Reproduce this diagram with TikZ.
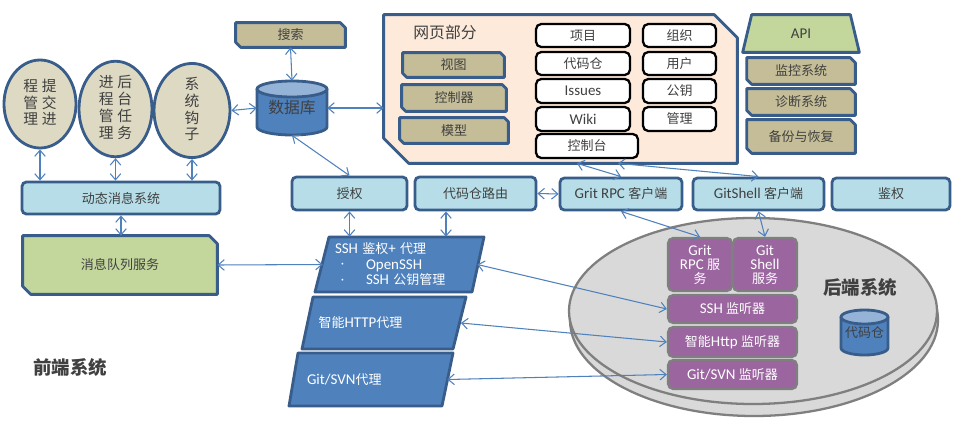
\documentclass[tikz,border=0pt]{standalone}
\usepackage{fontspec}
\setmainfont{Carlito}
\newfontfamily\cjk{Noto Sans CJK SC}
\newfontfamily\lat[Scale=1.15]{Carlito}
\usetikzlibrary{arrows.meta,backgrounds,shapes.geometric,calc}
\definecolor{bord}{HTML}{385D8A}
\definecolor{arrc}{HTML}{4F81BD}
\definecolor{beige}{HTML}{DDD9C3}
\definecolor{khaki}{HTML}{C4BD97}
\definecolor{lblue}{HTML}{B7DEE8}
\definecolor{lgreen}{HTML}{C3D69B}
\definecolor{peach}{HTML}{FDEADA}
\definecolor{mblue}{HTML}{4F81BD}
\definecolor{topblue}{HTML}{95B3D7}
\definecolor{disk}{HTML}{D9D9D9}
\definecolor{diskb}{HTML}{7F7F7F}
\definecolor{purp}{HTML}{9B65A0}
\definecolor{txtc}{HTML}{404040}
\newcommand\La[1]{{\lat #1}}
\newcommand\smbul{\raisebox{1pt}{\fontsize{5}{5}\selectfont\textbullet}}
\newcommand\snipdraw[4]{%
  \begin{pgfonlayer}{background}
  \draw[#4] (#1.north west) -- ([xshift=-#2*0.02cm]#1.north east) -- ([yshift=-#2*0.02cm]#1.north east) -- (#1.south east) -- ([xshift=#3*0.02cm]#1.south west) -- ([yshift=#3*0.02cm]#1.south west) -- cycle;
  \end{pgfonlayer}}
\tikzset{
  sz/.style 2 args={minimum width=#1*0.02cm, minimum height=#2*0.02cm},
  base/.style={inner sep=0pt, text=txtc, align=center, font=\cjk\fontsize{7.4}{9}\selectfont},
  ell/.style={base, ellipse, draw=bord, line width=1.6pt, fill=beige, font=\cjk\fontsize{8.4}{8.5}\selectfont},
  lbbox/.style={base, rectangle, rounded corners=2.5pt, draw=bord, line width=1.6pt, fill=lblue},
  wbox/.style={base, rectangle, rounded corners=3pt, draw=black, line width=1.3pt, fill=white},
  pbox/.style={base, rectangle, rounded corners=3pt, draw=diskb, line width=1.3pt, fill=purp, text=white, font=\cjk\fontsize{7.4}{7.9}\selectfont},
  snipk/.style={draw=bord, line width=1.6pt, fill=khaki, line join=round},
  snipg/.style={draw=bord, line width=1.6pt, fill=lgreen, line join=round},
  shp/.style={draw=bord, line width=1.6pt, line join=round},
  par/.style={base, text=white, align=left, inner xsep=12*0.02cm, font=\cjk\fontsize{7.4}{8.8}\selectfont},
  big/.style={base, font=\cjk\bfseries\fontsize{10.5}{12}\selectfont},
  conn/.style={draw=arrc, line width=0.6pt, {Straight Barb[length=3.5pt,width=6pt]}-{Straight Barb[length=3.5pt,width=6pt]}},
}
\begin{document}
\begin{tikzpicture}[x=0.02cm, y=-0.02cm]
\useasboundingbox (0,0) rectangle (960,423);
\begin{pgfonlayer}{background}
\fill[white] (0,0) rectangle (960,423);
\end{pgfonlayer}

% ---- left ellipses
\node[ell, sz={72}{88}] (e1) at (40,104) {\begin{tabular}{@{}c@{\hspace{2pt}}c@{}}程&提\\管&交\\理&进\end{tabular}};
\node[ell, sz={73}{88}] (e2) at (115.5,109) {\begin{tabular}{@{}c@{\hspace{2pt}}c@{}}进&后\\程&台\\管&任\\理&务\end{tabular}};
\node[ell, sz={76}{89}] (e3) at (192,110.5) {\begin{tabular}{@{}c@{}}系\\统\\钩\\子\end{tabular}};

\node[lbbox, sz={198}{32}] (dyn) at (121,198) {动态消息系统};
\node[base, sz={194}{58}] (mq) at (120,265) {消息队列服务};
\snipdraw{mq}{8}{8}{snipg}

\node[big] (front) at (70,367) {前端系统};

% ---- search and database
\node[base, sz={109}{24}] (search) at (290.5,35) {搜索};
\snipdraw{search}{5}{5}{snipk}

\draw[shp, fill=mblue] (257,89) -- (257,127) arc[start angle=180, end angle=360, x radius=0.7cm, y radius=0.16cm] -- (327,89) -- cycle;
\draw[shp, fill=topblue] (292,89) ellipse [x radius=0.7cm, y radius=0.16cm];
\node[base, sz={70}{54}, font=\cjk\fontsize{9}{10}\selectfont, text=black!75] (db) at (292,108) {\raisebox{-3pt}{数据库}};

% ---- web part
\node[base, sz={353}{148}] (web) at (560.5,89) {};
\snipdraw{web}{23}{25}{shp, fill=peach}
\node[base, font=\cjk\fontsize{9}{10}\selectfont] (webt) at (445,32) {网页部分};

\node[base, sz={101}{24}] (view) at (453.5,65) {视图};
\snipdraw{view}{4}{4}{snipk}
\node[base, sz={104}{26}] (ctrl) at (454,98) {控制器};
\snipdraw{ctrl}{4}{4}{snipk}
\node[base, sz={108}{25}] (model) at (454,130.5) {模型};
\snipdraw{model}{4}{4}{snipk}

\node[wbox, sz={94}{23}] (proj) at (583,35.5) {项目};
\node[wbox, sz={94}{23}] (repo) at (583,63.5) {代码仓};
\node[wbox, sz={94}{24}] (issues) at (583,91) {\La{Issues}};
\node[wbox, sz={94}{24}] (wiki) at (583,119) {\La{Wiki}};
\node[wbox, sz={102}{24}] (console) at (587,146) {控制台};
\node[wbox, sz={73}{23}] (org) at (679.5,35.5) {组织};
\node[wbox, sz={73}{23}] (user) at (679.5,63.5) {用户};
\node[wbox, sz={73}{24}] (key) at (679.5,91) {公钥};
\node[wbox, sz={73}{24}] (admin) at (679.5,119) {管理};

% ---- API column
\node[base, sz={116}{37}] (api) at (801,33.5) {\La{API}};
\begin{pgfonlayer}{background}
\draw[shp, fill=lgreen] ([xshift=0.18cm]api.north west) -- ([xshift=-0.18cm]api.north east) -- (api.south east) -- (api.south west) -- cycle;
\end{pgfonlayer}
\node[base, sz={108}{26}] (mon) at (801,71) {监控系统};
\snipdraw{mon}{5}{5}{snipk}
\node[base, sz={108}{26}] (diag) at (801,102) {诊断系统};
\snipdraw{diag}{5}{5}{snipk}
\node[base, sz={108}{33}] (backup) at (801,136.5) {备份与恢复};
\snipdraw{backup}{5}{5}{snipk}

% ---- middle row
\node[lbbox, sz={115}{33}] (auth) at (349.5,193.5) {授权};
\node[lbbox, sz={121}{33}] (route) at (475.5,193.5) {代码仓路由};
\node[lbbox, sz={122}{32}] (gritc) at (621,194) {\La{Grit RPC }客户端};
\node[lbbox, sz={131}{32}] (gitshc) at (758.5,194) {\La{GitShell }客户端};
\node[lbbox, sz={118}{32}] (jq) at (891,194) {鉴权};

% ---- proxies
\node[par, sz={154}{55}, text width=2.6cm] (ssh) at (400,264.5) {\La{SSH }鉴权\La{+ }代理\\\hspace*{0.06cm}\makebox[0.56cm][l]{\smbul}\La{OpenSSH}\\\hspace*{0.06cm}\makebox[0.56cm][l]{\smbul}\La{SSH }公钥管理};
\begin{pgfonlayer}{background}
\draw[shp, fill=mblue] (329,237) -- (484,237) -- (472,292) -- (315,292) -- cycle;
\end{pgfonlayer}
\node[par, sz={154}{52}, text width=2.6cm] (http) at (383.5,323) {智能\La{HTTP}代理};
\begin{pgfonlayer}{background}
\draw[shp, fill=mblue] (313,297) -- (466,297) -- (453,349) -- (302,349) -- cycle;
\end{pgfonlayer}
\node[par, sz={152}{53}, text width=2.56cm] (gitsvn) at (371,379.5) {\La{Git/SVN}代理};
\begin{pgfonlayer}{background}
\draw[shp, fill=mblue] (298,353) -- (453,353) -- (442,406) -- (289,406) -- cycle;
\end{pgfonlayer}

% ---- backend
\node[ellipse, inner sep=0pt, draw=diskb, line width=1.3pt, fill=disk, sz={368}{192}] (disk2) at (754,320) {};
\node[ellipse, inner sep=0pt, draw=diskb, line width=1.3pt, fill=disk, sz={368}{186}] (disk) at (753,311) {};
\node[big] (back) at (860,287) {后端系统};

\node[pbox, sz={64}{53}] (gritsvc) at (700,264.5) {\La{Grit}\\\La{RPC }服\\务};
\node[pbox, sz={64}{53}] (gitshsvc) at (765,264.5) {\La{Git}\\\La{Shell}\\服务};
\node[pbox, sz={129}{28}] (sshl) at (732.5,309) {\La{SSH }监听器};
\node[pbox, sz={129}{30}] (httpl) at (732.5,342) {智能\La{Http }监听器};
\node[pbox, sz={129}{29}] (gitsvnl) at (732.5,374.5) {\La{Git/SVN }监听器};

\draw[shp, fill=mblue] (841,317) -- (841,348) arc[start angle=180, end angle=360, x radius=0.47cm, y radius=0.14cm] -- (888,317) -- cycle;
\draw[shp, fill=topblue] (864.5,317) ellipse [x radius=0.47cm, y radius=0.14cm];
\node[base, sz={47}{45}, text=black!75] (store) at (864.5,332.5) {\raisebox{-2pt}{代码仓}};

% ---- connectors
\draw[conn] (e1.south) -- (e1.south |- dyn.north);
\draw[conn] (e2.south) -- (e2.south |- dyn.north);
\draw[conn] (e3.south) -- (e3.south |- dyn.north);
\draw[conn] (dyn.south) -- (dyn.south |- mq.north);
\draw[conn] (mq.east) -- (ssh.west);
\draw[conn] (search.south) -- (db.north);
\draw[conn] (e3.east) -- (db.west);
\draw[conn] (db.east) -- (db.east -| web.west);
\draw[conn] (db.south) -- (auth.north);
\draw[conn] (auth.south) -- (auth.south |- ssh.north);
\draw[conn] ([xshift=-0.59cm]route.south) -- ([xshift=-0.59cm]route.south |- ssh.north);
\draw[conn] (route.east) -- (gritc.west);
\draw[conn] ([xshift=0.33cm]web.south) -- (gritc.north);
\draw[conn] ([xshift=1.15cm]web.south) -- (gitshc.north);
\draw[conn] (gritc.south) -- (gritsvc.north);
\draw[conn] (gitshc.south) -- (gitshsvc.north);
\draw[conn] (ssh.east) -- (sshl.west);
\draw[conn] (http.east) -- (httpl.west);
\draw[conn] (gitsvn.east) -- (gitsvnl.west);
\end{tikzpicture}
\end{document}
